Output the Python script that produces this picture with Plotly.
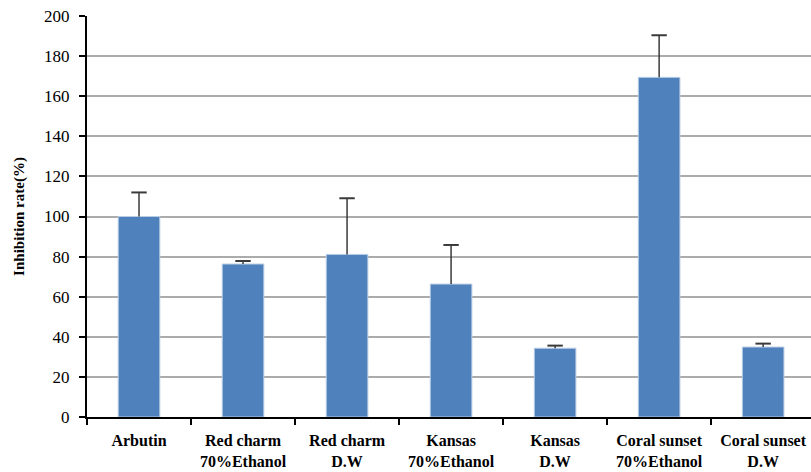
import plotly.graph_objects as go

categories = [
    "Arbutin",
    "Red charm<br>70%Ethanol",
    "Red charm<br>D.W",
    "Kansas<br>70%Ethanol",
    "Kansas<br>D.W",
    "Coral sunset<br>70%Ethanol",
    "Coral sunset<br>D.W",
]
inhibition = [100.0, 76.3, 81.1, 66.3, 34.3, 169.4, 34.9]
error_up = [12.0, 1.5, 28.0, 19.5, 1.3, 21.0, 1.7]
y_ticks = [0, 20, 40, 60, 80, 100, 120, 140, 160, 180, 200]

serif = "'Times New Roman', 'Liberation Serif', serif"
err_color = "#3A3A3A"

fig = go.Figure()

# bars with upward-only error stems (no caps: the cap is drawn by the marker trace)
fig.add_trace(
    go.Bar(
        x=categories,
        y=inhibition,
        width=0.4,
        marker=dict(color="#4F81BD", line=dict(color="#B9CDE5", width=1)),
        error_y=dict(
            type="data",
            symmetric=False,
            array=error_up,
            arrayminus=[0] * len(error_up),
            color=err_color,
            thickness=1.5,
            width=0,
        ),
    )
)

# caps at the top of each error bar
fig.add_trace(
    go.Scatter(
        x=categories,
        y=[v + e for v, e in zip(inhibition, error_up)],
        mode="markers",
        marker=dict(symbol="line-ew", size=11, line=dict(color=err_color, width=2)),
        hoverinfo="skip",
    )
)

fig.update_layout(
    width=811,
    height=472,
    margin=dict(l=87, r=0, t=16, b=55),
    paper_bgcolor="white",
    plot_bgcolor="white",
    showlegend=False,
    bargap=0.6,
    font=dict(family=serif, color="black"),
)

fig.update_xaxes(
    range=[-0.5, 6.46],
    showline=True,
    linecolor="black",
    linewidth=2,
    ticks="outside",
    tickson="boundaries",
    ticklen=6,
    tickwidth=1.5,
    tickcolor="black",
    ticklabelstandoff=8,
    tickfont=dict(family=serif, size=16, color="black", weight="bold"),
    showgrid=False,
)

fig.update_yaxes(
    range=[0, 200],
    tickvals=y_ticks,
    showline=True,
    linecolor="black",
    linewidth=2,
    ticks="outside",
    ticklen=6,
    tickwidth=2,
    tickcolor="black",
    ticklabelstandoff=6,
    tickfont=dict(family=serif, size=17, color="black"),
    showgrid=True,
    gridcolor="#ABABAB",
    gridwidth=1.5,
    zeroline=False,
    title=dict(
        text="<b>Inhibition rate(%)</b>",
        font=dict(family=serif, size=15, color="black"),
        standoff=16,
    ),
)

fig.write_html("out.html")
